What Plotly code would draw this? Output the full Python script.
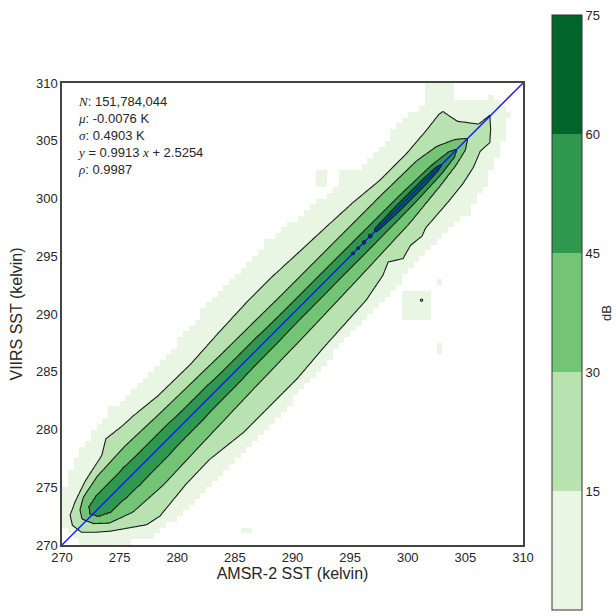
import numpy as np
import plotly.graph_objects as go

# ---- data --------------------------------------------------------------
# contour edges in rotated coordinates: s = (x+y)/2 (K along the 1:1 line),
# d = y - x (K, vertical offset from the 1:1 line)
LEVELS = [15, 30, 45, 60]

S15_UP = [271.3, 271.65, 272.45, 273.75, 274.9, 275.6, 276.5, 277.7, 278.7, 280.6, 283.4, 286.0, 288.5, 290.8, 293.0, 295.5, 297.5, 299.6, 301.9, 303.75, 305.0, 305.3, 305.5, 306.3, 307.2]
D15_UP = [0.8, 1.9, 2.6, 3.5, 4.0, 4.3, 5.4, 5.1, 5.0, 4.6, 4.5, 4.8, 5.0, 5.0, 4.8, 4.6, 4.4, 4.0, 4.0, 4.3, 4.6, 4.5, 2.4, 0.3, 0.1]
S15_LO = [271.3, 271.4, 272.0, 272.7, 274.55, 275.5, 278.0, 280.1, 282.7, 285.15, 287.5, 290.0, 293.8, 295.6, 296.4, 297.2, 298.1, 299.0, 299.5, 301.65, 303.05, 304.2, 305.2, 306.0, 306.6, 307.2]
D15_LO = [0.8, -0.6, -1.8, -3.0, -5.6, -6.0, -5.5, -5.4, -6.0, -6.0, -6.0, -5.6, -5.2, -4.5, -3.8, -4.8, -4.3, -4.5, -4.1, -3.8, -3.5, -3.0, -2.2, -2.3, -1.2, 0.1]

S30_UP = [272.0, 272.3, 273.0, 274.5, 277.0, 280.0, 285.0, 290.0, 295.0, 299.0, 302.0, 303.5, 304.6, 305.2]
D30_UP = [0.5, 1.5, 2.3, 2.9, 3.1, 2.9, 2.7, 2.6, 2.6, 2.6, 2.5, 2.0, 1.0, 0.0]
S30_LO = [272.0, 272.3, 273.0, 274.5, 277.0, 280.0, 285.0, 290.0, 295.0, 299.0, 302.0, 303.5, 304.6, 305.2]
D30_LO = [0.5, -0.9, -2.2, -3.3, -3.6, -3.4, -3.1, -2.9, -2.6, -2.3, -1.7, -1.3, -0.8, 0.0]

S45_UP = [272.5, 272.8, 273.5, 276.0, 280.0, 285.0, 290.0, 295.0, 300.0, 302.5, 303.8, 304.3]
D45_UP = [0.3, 1.0, 1.3, 1.4, 1.3, 1.15, 1.05, 1.0, 0.95, 0.8, 0.5, 0.0]
S45_LO = [272.5, 272.8, 273.5, 276.0, 280.0, 285.0, 290.0, 295.0, 300.0, 302.5, 303.8, 304.3]
D45_LO = [0.3, -0.7, -1.4, -1.6, -1.45, -1.3, -1.15, -1.05, -1.0, -0.8, -0.5, 0.0]

S60_UP = [297.1, 297.3, 299.0, 301.5, 302.6, 303.0]
D60_UP = [0.0, 0.25, 0.35, 0.35, 0.25, 0.0]
S60_LO = [297.1, 297.3, 299.0, 301.5, 302.6, 303.0]
D60_LO = [0.0, -0.2, -0.35, -0.35, -0.2, 0.0]

# small isolated islands
DOT60_S = [295.25, 295.7, 296.2, 296.75]
DOT60_R = [0.10, 0.11, 0.13, 0.15]
DOT15_X = [301.2]
DOT15_Y = [291.2]
DOT15_R = [0.10]

# extent of the non-empty (lowest level) bins
SL = [271.0, 272.0, 274.0, 276.0, 278.0, 280.0, 282.0, 284.0, 286.0, 288.0, 290.0, 292.0, 294.0, 296.0, 298.0, 300.0, 302.0, 304.0, 306.0, 308.0]
DL_UP = [1.5, 4.0, 6.0, 7.0, 7.5, 7.0, 7.0, 7.5, 8.0, 8.0, 8.0, 8.5, 8.0, 7.5, 7.0, 6.5, 7.0, 7.0, 5.0, 1.5]
DL_LO = [-1.5, -4.0, -7.0, -7.5, -7.5, -7.5, -7.5, -7.5, -7.5, -7.0, -7.0, -6.5, -6.5, -6.5, -6.0, -6.0, -6.5, -5.5, -4.0, -1.5]
PATCH_X0 = [299.5, 302.5, 302.5, 301.5, 292.0, 285.5, 294.0]
PATCH_X1 = [302.0, 303.0, 303.0, 304.0, 293.0, 286.5, 296.0]
PATCH_Y0 = [289.5, 286.5, 292.5, 307.0, 301.0, 271.0, 301.5]
PATCH_Y1 = [292.0, 287.5, 293.0, 310.0, 302.5, 271.5, 302.5]

XTICKS = [270, 275, 280, 285, 290, 295, 300, 305, 310]
CB_TICKS = [0, 15, 30, 45, 60, 75]
COLORS = ["#e9f6e4", "#b8e3b1", "#74c476", "#2f984f", "#006529"]


def sym(t):
    return "<i><span style='font-family:Liberation Serif, serif'>" + t + "</span></i>"


STATS = [sym("N") + ": 151,784,044", sym("μ") + ": -0.0076 K", sym("σ") + ": 0.4903 K",
         sym("y") + " = 0.9913 " + sym("x") + " + 2.5254", sym("ρ") + ": 0.9987"]

# ---- build the density field ------------------------------------------
g = np.round(np.arange(270.0, 310.0001, 0.1), 3)
X, Y = np.meshgrid(g, g)
S = (X + Y) / 2
D = Y - X


def band(su, du, sl, dl):
    up = np.interp(S, su, du)
    lo = np.interp(S, sl, dl)
    s0 = min(su[0], sl[0])
    s1 = max(su[-1], sl[-1])
    out = np.maximum(0, np.maximum(s0 - S, S - s1)) * 2
    return np.minimum(up - D, D - lo) - out


F = np.stack([band(S15_UP, D15_UP, S15_LO, D15_LO),
              band(S30_UP, D30_UP, S30_LO, D30_LO),
              band(S45_UP, D45_UP, S45_LO, D45_LO),
              band(S60_UP, D60_UP, S60_LO, D60_LO)])
for s0, r in zip(DOT60_S, DOT60_R):
    F[3] = np.maximum(F[3], r - np.hypot(X - s0, Y - s0))
for x0, y0, r in zip(DOT15_X, DOT15_Y, DOT15_R):
    F[0] = np.maximum(F[0], r - np.hypot(X - x0, Y - y0))
for i in (2, 1, 0):
    F[i] = np.maximum(F[i], F[i + 1] + 0.05)

Z = np.clip(15 + F[0] * 10, 0, None)
for i in range(3):
    m = (F[i] >= 0) & (F[i + 1] < 0)
    Z[m] = LEVELS[i] + 15 * F[i][m] / (F[i][m] - F[i + 1][m])
m = F[3] >= 0
Z[m] = 60 + np.minimum(F[3][m] * 40, 14)
Z = np.round(Z, 2)

# lowest-level bins (0.5 K)
c = np.arange(270.25, 310.0, 0.5)
CX, CY = np.meshgrid(c, c)
CS = (CX + CY) / 2
CD = CY - CX
inside = ((CD <= np.interp(CS, SL, DL_UP)) & (CD >= np.interp(CS, SL, DL_LO))
          & (CS >= SL[0]) & (CS <= SL[-1]))
for x0, x1, y0, y1 in zip(PATCH_X0, PATCH_X1, PATCH_Y0, PATCH_Y1):
    inside |= (CX > x0) & (CX < x1) & (CY > y0) & (CY < y1)
ZL = np.where(inside, 1.0, np.nan)

# ---- figure -------------------------------------------------------------
FONT = "Liberation Sans, Arial, sans-serif"
fig = go.Figure()

fig.add_trace(go.Heatmap(x=c, y=c, z=ZL, colorscale=[[0, COLORS[0]], [1, COLORS[0]]],
                         showscale=False, zsmooth=False, hoverinfo="skip"))

fig.add_trace(go.Contour(
    x=g, y=g, z=Z, autocontour=False,
    contours=dict(start=15, end=60, size=15, coloring="fill", showlines=True),
    colorscale=[[0, "rgba(255,255,255,0)"], [0.25, COLORS[1]], [0.5, COLORS[2]],
                [0.75, COLORS[3]], [1, COLORS[4]]],
    line=dict(color="#1a1a1a", width=1.1, smoothing=1),
    showscale=False, hoverinfo="skip"))

fig.add_trace(go.Scatter(x=[270, 310], y=[270, 310], mode="lines",
                         line=dict(color="#1010ff", width=1.3), hoverinfo="skip",
                         showlegend=False))

cb_scale = []
for i, col in enumerate(COLORS):
    cb_scale += [[i / 5, col], [(i + 1) / 5, col]]
fig.add_trace(go.Scatter(
    x=[290], y=[290], mode="markers", hoverinfo="skip", showlegend=False,
    marker=dict(color=[0], cmin=0, cmax=75, colorscale=cb_scale, opacity=0, size=1,
                showscale=True,
                colorbar=dict(x=(552 - 62) / 461, xanchor="left", xpad=0, ypad=0,
                              y=(545 - 312.5) / 462, yanchor="middle",
                              lenmode="pixels", len=595, thickness=30,
                              outlinecolor="#333333", outlinewidth=1,
                              tickvals=CB_TICKS, ticks="",
                              tickfont=dict(size=13, color="#262626", family=FONT)))))

fig.add_annotation(xref="paper", yref="paper", x=(606 - 62) / 461, y=(545 - 313) / 462,
                   xanchor="center", yanchor="middle", textangle=-90, showarrow=False,
                   text="dB", font=dict(size=13, color="#262626", family=FONT))

fig.add_annotation(xref="paper", yref="paper", x=13 / 461, y=(545 - 92) / 462,
                   xanchor="left", yanchor="top", align="left", showarrow=False,
                   text="<br>".join(STATS),
                   font=dict(size=13, color="#262626", family=FONT))

axis = dict(range=[270, 310], tickvals=XTICKS, showgrid=False, zeroline=False,
            showline=True, mirror=True, linecolor="#444444", linewidth=1.5, ticks="",
            tickfont=dict(size=13, color="#262626", family=FONT))
fig.update_layout(
    width=616, height=616, margin=dict(l=62, r=93, t=83, b=71),
    paper_bgcolor="white", plot_bgcolor="white", showlegend=False,
    font=dict(family=FONT, size=13, color="#262626"),
    xaxis=dict(axis, title=dict(text="AMSR-2 SST (kelvin)", standoff=3)),
    yaxis=dict(axis, title=dict(text="VIIRS SST (kelvin)", standoff=9)),
)
fig.write_html("out.html")
